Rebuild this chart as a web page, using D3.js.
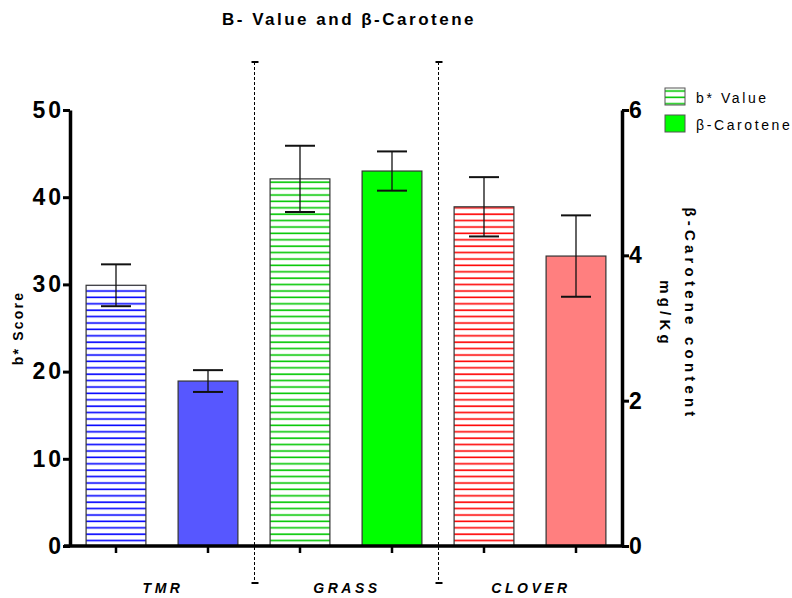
<!DOCTYPE html>
<html>
<head>
<meta charset="utf-8">
<script src="https://cdn.jsdelivr.net/npm/d3@7"></script>
<style>
  body { margin: 0; background: #fff; }
  text { font-family: "Liberation Sans", Arial, sans-serif; }
</style>
</head>
<body>
<div id="container"></div>
<script>
const categories = ["TMR", "GRASS", "CLOVER"];
const bValue = [29.9, 42.1, 38.9];
const bErr = [2.4, 3.8, 3.4];
const carotene = [2.27, 5.16, 3.99];
const caroteneErr = [0.15, 0.27, 0.56];
const leftTicks = [0, 10, 20, 30, 40, 50];
const rightTicks = [0, 2, 4, 6];
const hatchColors = ["#0000ff", "#00c800", "#ff0000"];
const fillColors = ["#5757ff", "#00ff00", "#ff7f7f"];

const width = 792;
const height = 598;
const plotLeft = 70, plotRight = 622, plotTop = 110, plotBottom = 546;

const svg = d3.select("#container")
  .append("svg")
  .attr("width", width)
  .attr("height", height);

// hatch patterns
const defs = svg.append("defs");
hatchColors.forEach((c, i) => {
  const p = defs.append("pattern")
    .attr("id", "hatch" + i)
    .attr("patternUnits", "userSpaceOnUse")
    .attr("width", 10)
    .attr("height", 6.4);
  p.append("rect").attr("width", 10).attr("height", 6.4).attr("fill", "#fff");
  p.append("line")
    .attr("x1", 0).attr("x2", 10)
    .attr("y1", 3).attr("y2", 3)
    .attr("stroke", c).attr("stroke-width", 1.6);
});

const bars = [];
categories.forEach((cat, i) => {
  bars.push({ key: cat + "-b", cat, i, v: bValue[i], err: bErr[i], kind: "b" });
  bars.push({ key: cat + "-c", cat, i, v: carotene[i], err: caroteneErr[i], kind: "c" });
});

const x = d3.scaleBand()
  .domain(bars.map(d => d.key))
  .range([plotLeft, plotRight])
  .paddingInner(0.35)
  .paddingOuter(0.175);

const xGroup = d3.scaleBand()
  .domain(categories)
  .range([plotLeft, plotRight]);

const yLeft = d3.scaleLinear().domain([0, 50]).range([plotBottom, plotTop]);
const yRight = d3.scaleLinear().domain([0, 6]).range([plotBottom, plotTop]);
const yOf = d => d.kind === "b" ? yLeft : yRight;

// bars
svg.append("g")
  .selectAll("rect")
  .data(bars)
  .enter()
  .append("rect")
  .attr("x", d => x(d.key))
  .attr("y", d => yOf(d)(d.v))
  .attr("width", x.bandwidth())
  .attr("height", d => plotBottom - yOf(d)(d.v))
  .attr("fill", d => d.kind === "b" ? "url(#hatch" + d.i + ")" : fillColors[d.i])
  .attr("stroke", "#333")
  .attr("stroke-width", 1.2);

// error bars
const eb = svg.append("g").attr("stroke", "#111");
bars.forEach(d => {
  const cx = x(d.key) + x.bandwidth() / 2;
  const y = yOf(d);
  eb.append("line").attr("x1", cx).attr("x2", cx)
    .attr("y1", y(d.v + d.err)).attr("y2", y(d.v - d.err)).attr("stroke-width", 1.3);
  [d.v + d.err, d.v - d.err].forEach(v => {
    eb.append("line").attr("x1", cx - 15).attr("x2", cx + 15)
      .attr("y1", y(v)).attr("y2", y(v)).attr("stroke-width", 2);
  });
});

// group separators
categories.slice(1).forEach(cat => {
  const sx = Math.round(xGroup(cat)) + 0.5;
  svg.append("line").attr("x1", sx).attr("x2", sx).attr("y1", 62).attr("y2", 583)
    .attr("stroke", "#000").attr("stroke-width", 1).attr("stroke-dasharray", "3,2");
  [62, 583].forEach(yy => {
    svg.append("line").attr("x1", sx - 3).attr("x2", sx + 4).attr("y1", yy).attr("y2", yy)
      .attr("stroke", "#000").attr("stroke-width", 2);
  });
});

// axes
const styleAxis = g => {
  g.select(".domain").attr("stroke-width", 3.5);
  g.selectAll(".tick line").attr("stroke-width", 3);
  g.selectAll(".tick text")
    .style("font-family", "'Liberation Sans Narrow', 'Liberation Sans', sans-serif")
    .style("font-size", "23px").style("font-weight", "bold")
    .style("letter-spacing", "3px").attr("fill", "#000");
};

svg.append("g")
  .attr("transform", `translate(${plotLeft},0)`)
  .call(d3.axisLeft(yLeft).tickValues(leftTicks).tickSize(7).tickSizeOuter(0).tickPadding(-1))
  .call(styleAxis);

svg.append("g")
  .attr("transform", `translate(${plotRight},0)`)
  .call(d3.axisRight(yRight).tickValues(rightTicks).tickFormat(d3.format("d"))
    .tickSize(7).tickSizeOuter(0).tickPadding(0))
  .call(styleAxis);

const xAxis = svg.append("g")
  .attr("transform", `translate(0,${plotBottom})`)
  .call(d3.axisBottom(x).tickSize(7).tickSizeOuter(0).tickFormat(""));
xAxis.select(".domain").attr("stroke-width", 3.5).attr("d", `M${plotLeft - 6},0H${plotRight + 2}`);
xAxis.selectAll(".tick line").attr("stroke-width", 2.5);

// category labels
svg.append("g")
  .selectAll("text")
  .data(categories)
  .enter()
  .append("text")
  .attr("x", d => xGroup(d) + xGroup.bandwidth() / 2 + 1)
  .attr("y", 593)
  .attr("text-anchor", "middle")
  .style("font-size", "14px")
  .style("font-weight", "bold")
  .style("font-style", "italic")
  .style("letter-spacing", "3.5px")
  .text(d => d);

// title
svg.append("text")
  .attr("x", 349).attr("y", 25)
  .attr("text-anchor", "middle")
  .style("font-size", "17px").style("font-weight", "bold").style("letter-spacing", "2.5px")
  .text("B- Value and β-Carotene");

// y labels
svg.append("text")
  .attr("transform", "translate(23,328) rotate(-90)")
  .attr("text-anchor", "middle")
  .style("font-size", "14px").style("font-weight", "bold").style("letter-spacing", "2.2px")
  .text("b* Score");

const rl = svg.append("text")
  .attr("transform", "translate(685,314) rotate(90)")
  .attr("text-anchor", "middle")
  .style("font-size", "15px").style("font-weight", "bold").style("letter-spacing", "4.2px");
rl.append("tspan").attr("x", 0).attr("dy", 0).text("β-Carotene content");
rl.append("tspan").attr("x", 0).attr("dy", 25).text("mg/Kg");

// legend
const legendItems = [
  { label: "b* Value", fill: "url(#hatch1)" },
  { label: "β-Carotene", fill: fillColors[1] }
];
const lg = svg.append("g")
  .selectAll("g")
  .data(legendItems)
  .enter()
  .append("g")
  .attr("transform", (d, i) => `translate(665,${88 + i * 27})`);
lg.append("rect")
  .attr("width", 20).attr("height", 17)
  .attr("fill", d => d.fill)
  .attr("stroke", "#555").attr("stroke-width", 1);
lg.append("text")
  .attr("x", 31).attr("y", 15)
  .style("font-size", "14px").style("letter-spacing", "2.6px")
  .text(d => d.label);
</script>
</body>
</html>
